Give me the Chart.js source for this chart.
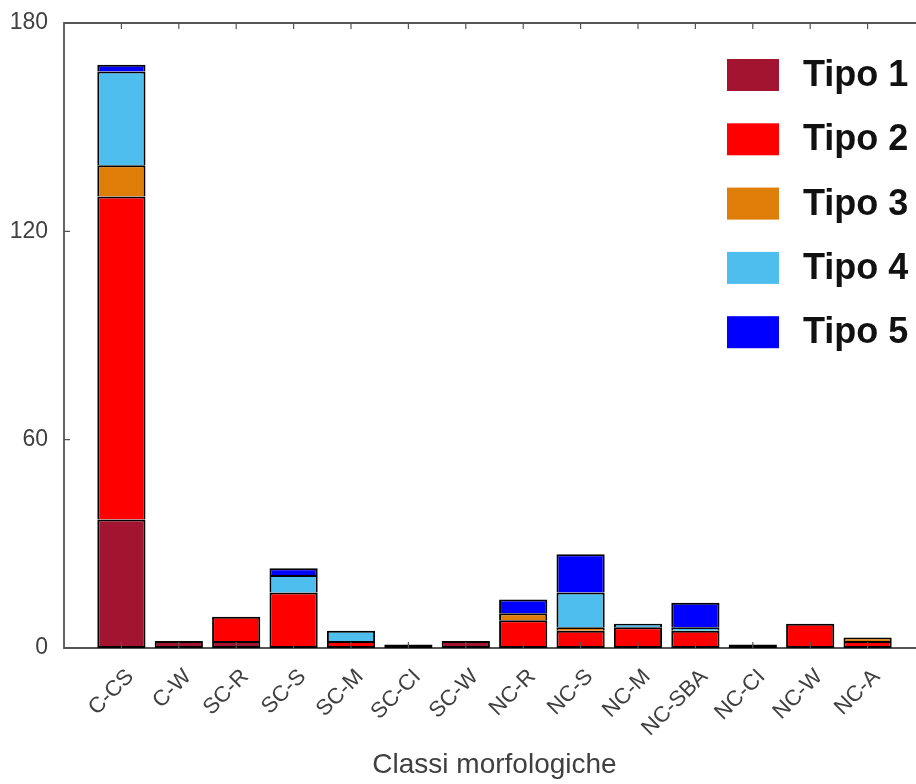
<!DOCTYPE html>
<html>
<head>
<meta charset="utf-8">
<script src="https://cdn.jsdelivr.net/npm/chart.js@4.4.0/dist/chart.umd.min.js"></script>
<style>
  html, body { margin: 0; padding: 0; overflow: hidden; background: #fff; }
  #chart { display: block; width: 930px; height: 784px; }
</style>
</head>
<body>
<canvas id="chart" width="930" height="784"></canvas>
<script>
// values
const categories = ['C-CS', 'C-W', 'SC-R', 'SC-S', 'SC-M', 'SC-CI', 'SC-W', 'NC-R', 'NC-S', 'NC-M', 'NC-SBA', 'NC-CI', 'NC-W', 'NC-A'];
const tipo1 = [37, 2, 2, 0, 0, 1, 2, 0, 0, 0, 0, 1, 0, 0];
const tipo2 = [93, 0, 7, 16, 2, 0, 0, 8, 5, 6, 5, 0, 7, 2];
const tipo3 = [9, 0, 0, 0, 0, 0, 0, 2, 1, 0, 0, 0, 0, 1];
const tipo4 = [27, 0, 0, 5, 3, 0, 0, 0, 10, 1, 1, 0, 0, 0];
const tipo5 = [2, 0, 0, 2, 0, 0, 0, 4, 11, 0, 7, 0, 0, 0];
const seriesNames = ['Tipo 1', 'Tipo 2', 'Tipo 3', 'Tipo 4', 'Tipo 5'];
const yTicks = [0, 60, 120, 180];

const colors = ['#A2142F', '#FF0000', '#DE7E08', '#4DBEEE', '#0000FF'];
const axisColor = '#555555';
const textColor = '#404040';
const fontFam = '"Liberation Sans", Arial, Helvetica, sans-serif';

const series = [tipo1, tipo2, tipo3, tipo4, tipo5];
// one empty slot each side, like xlim [0 15]; zero segments are not drawn
const labels = [''].concat(categories, ['']);
const pad = arr => [null].concat(arr.map(v => v || null), [null]);

// lowest drawn segment keeps its bottom border, the others skip it
function skipFor(ctx) {
  const i = ctx.dataIndex - 1;
  if (i < 0 || i >= categories.length) return 'start';
  for (let k = 0; k < ctx.datasetIndex; k++) {
    if (series[k][i]) return 'start';
  }
  return false;
}

const datasets = series.map((d, i) => ({
  label: seriesNames[i],
  data: pad(d),
  backgroundColor: colors[i],
  borderColor: '#000',
  borderWidth: 2,
  borderSkipped: skipFor,
  categoryPercentage: 0.84,
  barPercentage: 1
}));

// box + inward ticks
const boxPlugin = {
  id: 'box',
  beforeDatasetsDraw(chart) {
    const { ctx, chartArea: a } = chart;
    ctx.save();
    ctx.strokeStyle = axisColor;
    ctx.lineWidth = 1.8;
    ctx.beginPath();
    ctx.moveTo(a.right, a.top); ctx.lineTo(a.left, a.top);
    ctx.lineTo(a.left, a.bottom); ctx.lineTo(a.right, a.bottom);
    ctx.stroke();
    ctx.restore();
  },
  afterDatasetsDraw(chart) {
    const { ctx, chartArea: a, scales } = chart;
    ctx.save();
    ctx.strokeStyle = axisColor;
    ctx.lineWidth = 1.2;
    ctx.beginPath();
    for (let i = 1; i <= categories.length; i++) {
      const x = scales.x.getPixelForValue(i);
      ctx.moveTo(x, a.top); ctx.lineTo(x, a.top + 6);
      ctx.moveTo(x, a.bottom); ctx.lineTo(x, a.bottom - 6);
    }
    yTicks.forEach(v => {
      const y = scales.y.getPixelForValue(v);
      ctx.moveTo(a.left, y); ctx.lineTo(a.left + 6, y);
    });
    ctx.stroke();
    ctx.restore();
  }
};

// legend drawn inside the plot, top right
const legendPlugin = {
  id: 'insideLegend',
  afterDraw(chart) {
    const { ctx } = chart;
    ctx.save();
    ctx.font = 'bold 36px ' + fontFam;
    ctx.textBaseline = 'middle';
    ctx.textAlign = 'left';
    chart.data.datasets.forEach((ds, i) => {
      const y = 59 + i * 64.3;
      ctx.fillStyle = ds.backgroundColor;
      ctx.fillRect(727, y, 52, 32);
      ctx.fillStyle = '#111';
      ctx.fillText(ds.label, 803, y + 17);
    });
    ctx.restore();
  }
};

new Chart(document.getElementById('chart'), {
  type: 'bar',
  data: { labels: labels, datasets: datasets },
  options: {
    responsive: false,
    animation: false,
    layout: { padding: { left: 0, top: 23, right: 5, bottom: 0 } },
    plugins: { legend: { display: false }, tooltip: { enabled: false } },
    scales: {
      x: {
        stacked: true,
        offset: false,
        grid: { display: false },
        border: { display: false },
        ticks: {
          autoSkip: false,
          minRotation: 45,
          maxRotation: 45,
          padding: 8,
          labelOffset: 9,
          color: textColor,
          font: { family: fontFam, size: 22 }
        },
        title: {
          display: true,
          text: 'Classi morfologiche',
          color: textColor,
          font: { family: fontFam, size: 28 },
          padding: { top: 0, bottom: 2 }
        },
        afterFit(scale) {
          scale.height = 136;
          scale.paddingLeft = 0;
          scale.paddingRight = 0;
        }
      },
      y: {
        stacked: true,
        min: 0,
        max: 180,
        grid: { display: false },
        border: { display: false },
        afterBuildTicks(scale) { scale.ticks = yTicks.map(v => ({ value: v })); },
        ticks: {
          padding: 8,
          color: textColor,
          font: { family: fontFam, size: 23 }
        },
        afterFit(scale) { scale.width = 64; }
      }
    }
  },
  plugins: [boxPlugin, legendPlugin]
});
</script>
</body>
</html>
